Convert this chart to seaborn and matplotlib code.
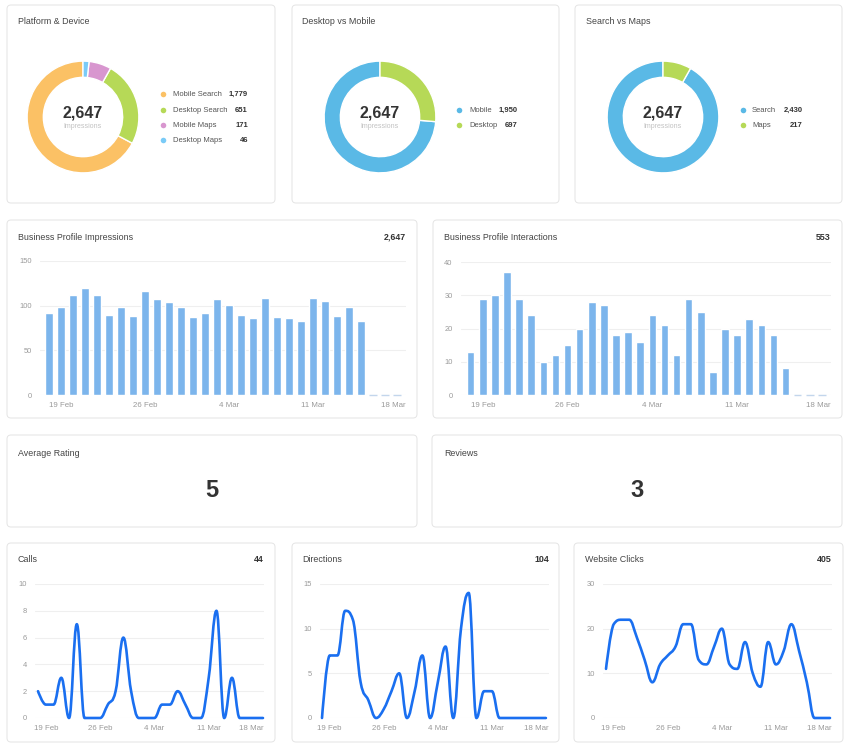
import numpy as np
import pandas as pd
import matplotlib
matplotlib.use("Agg")
import matplotlib.pyplot as plt
import matplotlib.transforms as mtransforms
from matplotlib.patches import FancyBboxPatch, PathPatch
from matplotlib.path import Path
import seaborn as sns

W, H = 857, 748

# Data
days = pd.date_range("2024-02-18", "2024-03-18", freq="D")
tick_labels = ["19 Feb", "26 Feb", "4 Mar", "11 Mar", "18 Mar"]

platform_labels = ["Mobile Search", "Desktop Search", "Mobile Maps", "Desktop Maps"]
platform_values = [1779, 651, 171, 46]
device_labels = ["Mobile", "Desktop"]
device_values = [1950, 697]
source_labels = ["Search", "Maps"]
source_values = [2430, 217]

impressions = [92, 99, 112, 120, 112, 90, 98, 88, 116, 107, 104, 98, 87, 92, 108,
               101, 89, 86, 109, 87, 86, 83, 109, 105, 88, 98, 83, 0, 0, 0]
interactions = [13, 29, 30, 37, 29, 24, 10, 12, 15, 20, 28, 27, 18, 19, 16,
                24, 21, 12, 29, 25, 7, 20, 18, 23, 21, 18, 8, 0, 0, 0]
calls = [2, 1, 1, 3, 0, 7, 0, 0, 0, 1, 2, 6, 2, 0, 0,
         0, 1, 1, 2, 1, 0, 0, 3, 8, 0, 3, 0, 0, 0, 0]
directions = [0, 7, 7, 12, 11, 4, 2, 0, 1, 3, 5, 0, 3, 7, 0,
              4, 8, 0, 10, 14, 0, 3, 3, 0, 0, 0, 0, 0, 0, 0]
website_clicks = [11, 21, 22, 22, 18, 13, 8, 12, 14, 16, 21, 21, 13, 12, 16,
                  20, 12, 11, 17, 10, 7, 17, 12, 15, 21, 15, 8, 0, 0, 0]
average_rating = 5
reviews = 3

# Colours
pie_platform_colors = ["#FBC165", "#B6D957", "#D896CF", "#7ACBF7"]
pie_two_colors = ["#5AB9E6", "#B6D957"]
bar_color = "#7CB5EC"
line_color = "#1A6FF0"
title_color = "#444444"
value_color = "#333333"
tick_color = "#9a9a9a"
grid_color = "#efefef"

sns.set_theme(style="white")
plt.rcParams["font.family"] = ["Liberation Sans", "DejaVu Sans"]

fig = plt.figure(figsize=(W / 100, H / 100), dpi=100)
fig.patch.set_facecolor("white")

# background axes in pixel coordinates for cards and texts
bg = fig.add_axes([0, 0, 1, 1])
bg.set_xlim(0, W)
bg.set_ylim(H, 0)
bg.axis("off")


def card(x0, y0, x1, y1):
    bg.add_patch(FancyBboxPatch((x0, y0), x1 - x0, y1 - y0,
                                boxstyle="round,pad=0,rounding_size=4",
                                facecolor="white", edgecolor="#e4e4e4", linewidth=0.7))


def px_axes(x0, y0, x1, y1):
    return fig.add_axes([x0 / W, 1 - y1 / H, (x1 - x0) / W, (y1 - y0) / H], facecolor="none")


def title(x, y, text):
    bg.text(x, y, text, ha="left", va="center", fontsize=6.4, color=title_color)


def total(x, y, text):
    bg.text(x, y, text, ha="right", va="center", fontsize=6.4, color=value_color,
            fontweight="bold")


def fmt(v):
    return f"{v:,}"


# cards
for box in [(7, 5, 275, 203), (292, 5, 559, 203), (575, 5, 842, 203),
            (7, 220, 417, 418), (433, 220, 842, 418),
            (7, 435, 417, 527), (432, 435, 842, 527),
            (7, 543, 275, 742), (292, 543, 559, 742), (574, 543, 843, 742)]:
    card(*box)


def donut(cx, cy, values, colors, labels, legend_rows, dot_x, label_x, value_x, name):
    r = 56
    ax = px_axes(cx - r - 1, cy - r - 1, cx + r + 1, cy + r + 1)
    ax.pie(values, colors=colors, startangle=90, counterclock=True, radius=1,
           wedgeprops=dict(width=0.29, edgecolor="white", linewidth=1))
    ax.set_xlim(-1.02, 1.02)
    ax.set_ylim(-1.02, 1.02)
    bg.text(cx, cy - 4, fmt(sum(values)), ha="center", va="center", fontsize=11.5,
            fontweight="bold", color=value_color)
    bg.text(cx, cy + 9, "Impressions", ha="center", va="center", fontsize=5,
            color="#c2c2c2")
    for lab, val, col, ry in zip(labels, values, colors, legend_rows):
        bg.scatter([dot_x], [ry], s=16, color=col, linewidths=0)
        bg.text(label_x, ry, lab, ha="left", va="center", fontsize=5.5, color="#555555")
        bg.text(value_x, ry, fmt(val), ha="right", va="center", fontsize=5.5,
                fontweight="bold", color=value_color)
    title(*name)


donut(83, 117, platform_values, pie_platform_colors, platform_labels,
      [94, 110, 125, 140], 163, 173, 248, (18, 21, "Platform & Device"))
donut(380, 117, device_values, pie_two_colors, device_labels,
      [110, 125], 459, 469, 518, (302, 21, "Desktop vs Mobile"))
donut(663, 117, source_values, pie_two_colors, source_labels,
      [110, 125], 743, 752, 803, (586, 21, "Search vs Maps"))

idx = np.arange(len(days))
day_names = [f"{d.day} {d:%b}" for d in days]
tick_idx = [day_names.index(t) for t in tick_labels]


def style_axes(ax, rect, yticks, xlim):
    ax.set_xlim(*xlim)
    ax.set_ylim(yticks[0], yticks[-1])
    ax.set_yticks(yticks)
    ax.set_xticks(tick_idx)
    ax.set_xticklabels(tick_labels)
    ax.set_xlabel("")
    ax.set_ylabel("")
    ax.tick_params(axis="both", length=0, labelcolor=tick_color)
    ax.tick_params(axis="x", pad=5, labelsize=5.7)
    ax.tick_params(axis="y", pad=6, labelsize=5.4)
    ax.yaxis.grid(True, color=grid_color, linewidth=0.8)
    ax.xaxis.grid(False)
    ax.set_axisbelow(True)
    for s in ax.spines.values():
        s.set_visible(False)
    # keep the last date label inside the plot, right-aligned to its edge
    px_per_unit = (rect[2] - rect[0]) / (xlim[1] - xlim[0])
    dx = (xlim[1] - tick_idx[-1]) * px_per_unit
    last = ax.get_xticklabels()[-1]
    last.set_horizontalalignment("right")
    last.set_transform(last.get_transform() +
                       mtransforms.ScaledTranslation(dx / 100, 0, fig.dpi_scale_trans))


def bar_panel(rect, values, yticks, xlim):
    ax = px_axes(*rect)
    sns.barplot(x=idx, y=values, native_scale=True, width=0.62, color=bar_color,
                saturation=1, errorbar=None, ax=ax, zorder=2)
    for p in ax.patches:
        if p.get_height() == 0:
            p.set_edgecolor("#c3d6ec")
            p.set_linewidth(1.0)
            p.set_clip_on(False)
    style_axes(ax, rect, yticks, xlim)
    return ax


bar_panel((40, 261, 406, 395), impressions, [0, 50, 100, 150], (-0.75, 29.75))
title(18, 237, "Business Profile Impressions")
total(406, 237, fmt(sum(impressions)))

bar_panel((461, 262, 831, 395), interactions, [0, 10, 20, 30, 40], (-0.8, 29.75))
title(444, 237, "Business Profile Interactions")
total(831, 237, fmt(sum(interactions)))

# KPI cards
title(18, 453, "Average Rating")
bg.text(212, 490, str(average_rating), ha="center", va="center", fontsize=17,
        fontweight="bold", color=value_color)
title(444, 453, "Reviews")
bg.text(637, 490, str(reviews), ha="center", va="center", fontsize=17,
        fontweight="bold", color=value_color)


def spline_path(xs, ys, smoothing=1.5):
    # Highcharts-like spline: cubic bezier segments without false extremes
    n = len(xs)
    lc = [(xs[i], ys[i]) for i in range(n)]
    rc = list(lc)
    d = smoothing + 1
    for i in range(1, n - 1):
        px, py = xs[i], ys[i]
        lx, ly = xs[i - 1], ys[i - 1]
        nx, ny = xs[i + 1], ys[i + 1]
        lcx = (smoothing * px + lx) / d
        lcy = (smoothing * py + ly) / d
        rcx = (smoothing * px + nx) / d
        rcy = (smoothing * py + ny) / d
        corr = (rcy - lcy) * (rcx - px) / (rcx - lcx) + py - rcy
        lcy += corr
        rcy += corr
        if lcy > ly and lcy > py:
            lcy = max(ly, py)
            rcy = 2 * py - lcy
        elif lcy < ly and lcy < py:
            lcy = min(ly, py)
            rcy = 2 * py - lcy
        if rcy > ny and rcy > py:
            rcy = max(ny, py)
            lcy = 2 * py - rcy
        elif rcy < ny and rcy < py:
            rcy = min(ny, py)
            lcy = 2 * py - rcy
        lc[i] = (lcx, lcy)
        rc[i] = (rcx, rcy)
    verts = [(xs[0], ys[0])]
    codes = [Path.MOVETO]
    for i in range(1, n):
        verts += [rc[i - 1], lc[i], (xs[i], ys[i])]
        codes += [Path.CURVE4] * 3
    return Path(verts, codes)


def line_panel(rect, values, yticks, xlim):
    ax = px_axes(*rect)
    path = spline_path(list(idx.astype(float)), [float(v) for v in values])
    ax.add_patch(PathPatch(path, fill=False, edgecolor=line_color, linewidth=1.9,
                           capstyle="round", joinstyle="round", clip_on=False, zorder=3))
    style_axes(ax, rect, yticks, xlim)
    return ax


line_panel((35, 584, 264, 718), calls, [0, 2, 4, 6, 8, 10], (-0.39, 29.13))
title(18, 559, "Calls")
total(264, 559, fmt(sum(calls)))

line_panel((320, 584, 549, 718), directions, [0, 5, 10, 15], (-0.26, 29.4))
title(302, 559, "Directions")
total(549, 559, fmt(sum(directions)))

line_panel((603, 584, 832, 718), website_clicks, [0, 10, 20, 30], (-0.39, 29.26))
title(585, 559, "Website Clicks")
total(832, 559, fmt(sum(website_clicks)))

fig.savefig("out.png", dpi=100, facecolor="white")
